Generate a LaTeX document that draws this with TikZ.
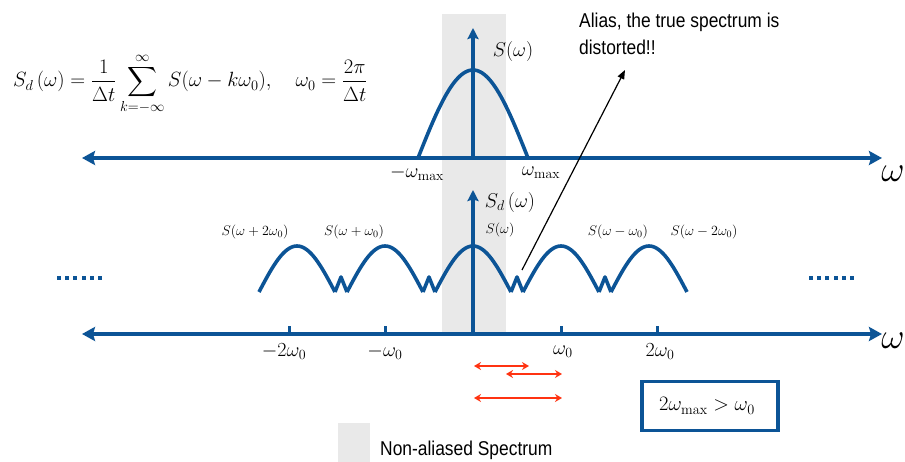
\RequirePackage{fix-cm}
\documentclass[tikz,border=0pt]{standalone}
\usepackage{amsmath}
\usepackage{fontspec}
\newfontfamily\narrowsans[FakeStretch=0.87]{Liberation Sans}
\usetikzlibrary{arrows.meta}
\definecolor{axblue}{RGB}{12,84,150}
\definecolor{bandgray}{RGB}{233,233,233}
\definecolor{redarrow}{RGB}{255,51,17}
\begin{document}
\begin{tikzpicture}[x=1pt,y=-1pt,
  axisline/.style={draw=axblue,line width=4pt,{Stealth[length=13pt,width=14pt,inset=2pt]}-{Stealth[length=13pt,width=14pt,inset=2pt]}},
  varrow/.style={draw=axblue,line width=3.5pt,-{Stealth[length=11pt,width=11pt,inset=1.5pt]}},
  bumpline/.style={draw=axblue,line width=3.6pt,line join=round},
  tickline/.style={draw=axblue,line width=3pt},
  redarr/.style={draw=redarrow,line width=1.8pt,{Stealth[length=7pt,width=8pt]}-{Stealth[length=7pt,width=8pt]}},
  aliasarr/.style={draw=black,line width=1.2pt,-{Triangle[length=9pt,width=7pt]}},
  mathlbl/.style={inner sep=0pt,font=\fontsize{20}{24}\selectfont},
  smalllbl/.style={inner sep=0pt,font=\fontsize{14}{17}\selectfont},
  bigw/.style={inner sep=0pt,font=\fontsize{36}{40}\selectfont},
  sanstext/.style={inner sep=0pt,font=\narrowsans\fontsize{20}{27}\selectfont},
  condbox/.style={draw=axblue,line width=3.5pt,fill=white,minimum width=136pt,minimum height=49pt,inner sep=0pt,font=\fontsize{20.5}{24}\selectfont},
  dotsq/.style={fill=axblue}
]
\useasboundingbox (0,0) rectangle (905,462);
% non-aliased band and legend
\fill[bandgray] (442,14) rectangle (506,334);
\fill[bandgray] (338,423) rectangle (370,462);

% formula
\node[anchor=west,inner sep=0pt,font=\fontsize{20.6}{25}\selectfont] (formula) at (13,84)
  {$\displaystyle S_d\,(\omega)=\frac{1}{\Delta t}\sum_{k=-\infty}^{\infty}S(\omega-k\omega_0),\quad \omega_0=\frac{2\pi}{\Delta t}$};

% ---------- top panel ----------
\coordinate (tl) at (82,158);
\coordinate (tr) at (882,158);
\coordinate (to) at (473,158);
\coordinate (tt) at (473,28);
\draw[axisline] (tl) -- (tr);
\draw[bumpline] plot[domain=-1:1,samples=61,variable=\t] ({473+55*\t},{158-88*cos(90*\t)});
\draw[varrow] (to) -- (tt);
\node[mathlbl] (sw) at (513,52) {$S(\omega)$};
\node[mathlbl] (mwmax) at (417,173) {$-\omega_{\max}$};
\node[mathlbl] (wmax) at (541,173) {$\omega_{\max}$};
\node[bigw] (w1) at (893,174) {$\omega$};

% alias annotation
\node[sanstext,anchor=north west,align=left] (alias) at (579,12.5) {Alias, the true spectrum is\\distorted!!};
\coordinate (aliasfoot) at (522,270);
\coordinate (aliastip) at (625,70);
\draw[aliasarr] (aliasfoot) -- (aliastip);

% ---------- bottom panel ----------
\coordinate (bl) at (82,334);
\coordinate (br) at (882,334);
\coordinate (bo) at (473,334);
\coordinate (bt) at (473,190);
\draw[axisline] (bl) -- (br);
\foreach \c in {297,385,473,561,649}{
  \draw[bumpline] plot[domain=-1:1,samples=41,variable=\t] ({\c+38*\t},{292-46*cos(90*\t)});
}
\foreach \s in {341,429,517,605}{
  \draw[bumpline] (\s-6,292) -- (\s,277) -- (\s+6,292);
}
\draw[varrow] (bo) -- (bt);
\foreach \k in {289,385,561,657}{
  \draw[tickline] (\k,334) -- (\k,326);
}
\node[mathlbl] (sd) at (510,203) {$S_d\,(\omega)$};
\node[smalllbl] (s2p) at (255,232) {$S(\omega+2\omega_0)$};
\node[smalllbl] (s1p) at (354,232) {$S(\omega+\omega_0)$};
\node[smalllbl] (s0) at (500,230) {$S(\omega)$};
\node[smalllbl] (s1m) at (618,232) {$S(\omega-\omega_0)$};
\node[smalllbl] (s2m) at (704,232) {$S(\omega-2\omega_0)$};
\node[mathlbl] (lm2) at (284,352) {$-2\omega_0$};
\node[mathlbl] (lm1) at (385,352) {$-\omega_0$};
\node[mathlbl] (lp1) at (563,352) {$\omega_0$};
\node[mathlbl] (lp2) at (660,352) {$2\omega_0$};
\node[bigw] (w2) at (893,341) {$\omega$};

% dots
\foreach \i in {0,...,5}{
  \fill[dotsq] ({57+8.2*\i},276) rectangle ++(4,4);
  \fill[dotsq] ({809+8.2*\i},276) rectangle ++(4,4);
}

% red arrows
\coordinate (r1a) at (474,366); \coordinate (r1b) at (529,366);
\coordinate (r2a) at (506,374); \coordinate (r2b) at (562,374);
\coordinate (r3a) at (474,398); \coordinate (r3b) at (562,398);
\draw[redarr] (r1a) -- (r1b);
\draw[redarr] (r2a) -- (r2b);
\draw[redarr] (r3a) -- (r3b);

% condition box
\node[condbox] (cond) at (710,406) {};
\node[inner sep=0pt,font=\fontsize{20.5}{24}\selectfont] (condtext) at (707,406) {$2\omega_{\max} > \omega_0$};

% legend
\node[sanstext,anchor=base west] (legend) at (380,455) {Non-aliased Spectrum};
\end{tikzpicture}
\end{document}
